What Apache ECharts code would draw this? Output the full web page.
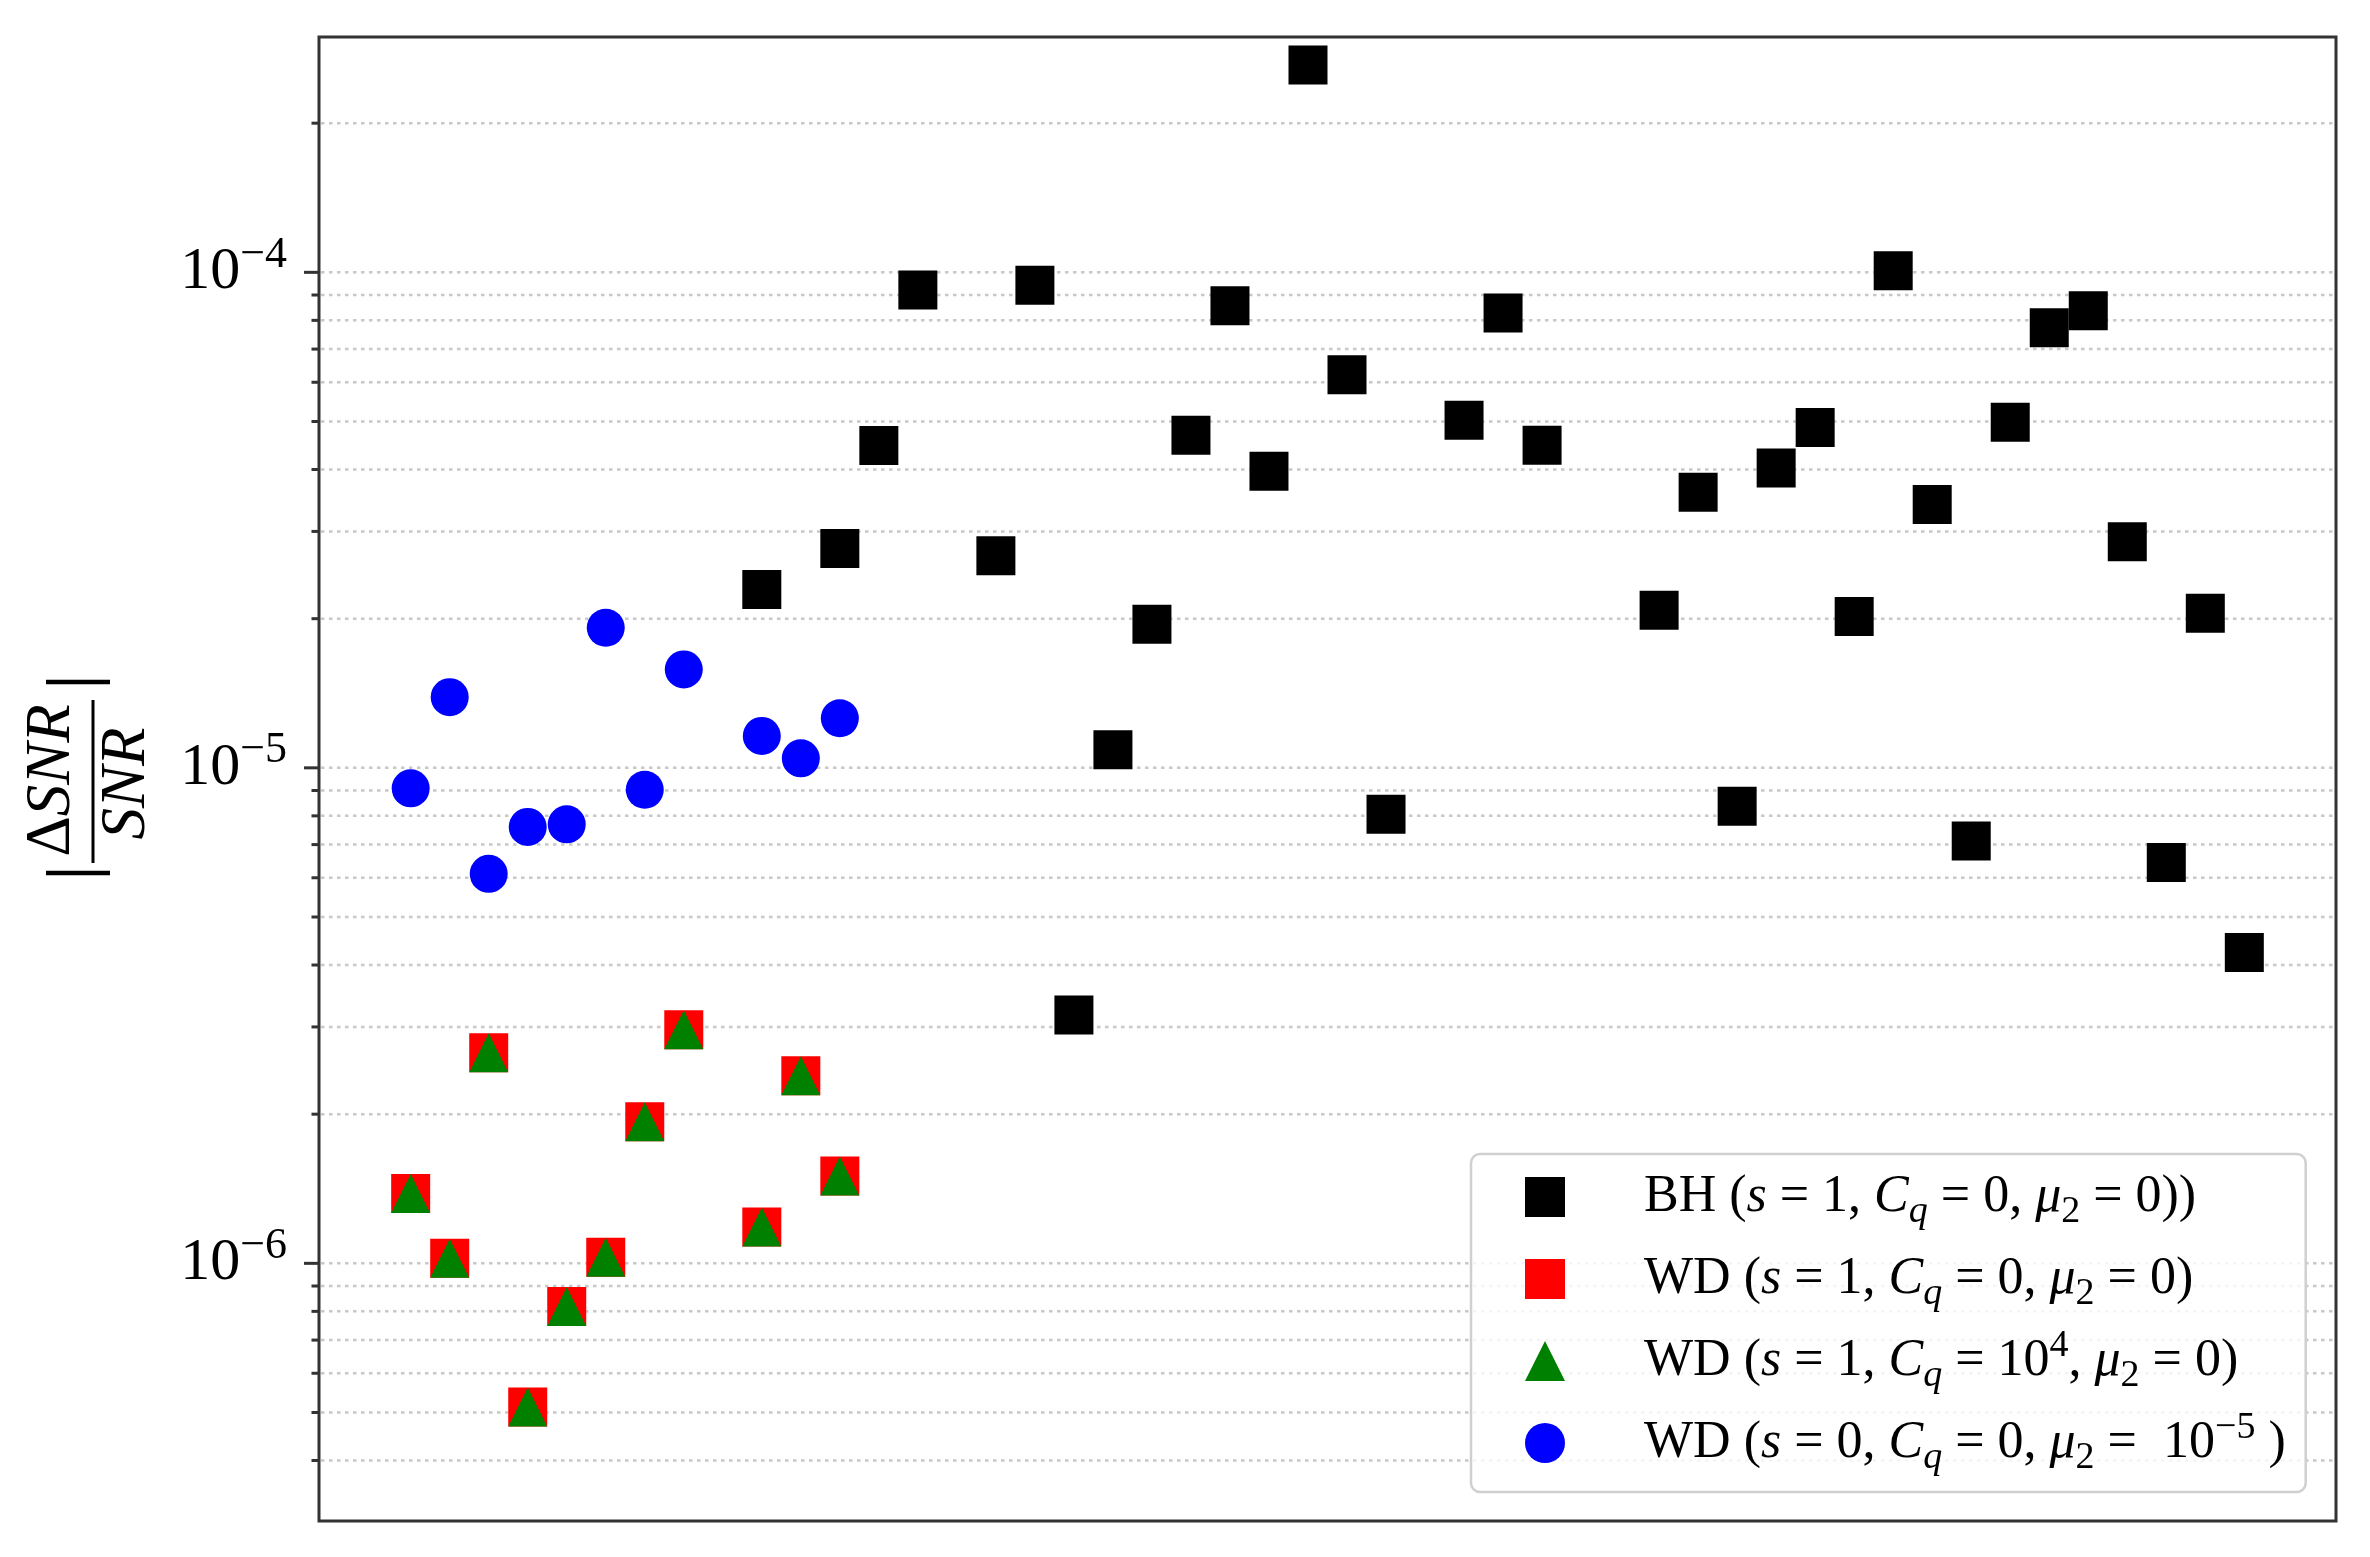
<!DOCTYPE html>
<html>
<head>
<meta charset="utf-8">
<script src="https://cdn.jsdelivr.net/npm/echarts@6/dist/echarts.min.js"></script>
<style>
html,body{margin:0;padding:0;background:#fff;}
#c{width:2370px;height:1557px;}
</style>
</head>
<body>
<div id="c"></div>
<script>
// ---------------- data ----------------
const bhX = [9, 11, 12, 13, 15, 16, 17, 18, 19, 20, 21, 22, 23, 24, 25, 27, 28, 29, 32, 33, 34, 35, 36, 37, 38, 39, 40, 41, 42, 43, 44, 45, 46, 47];
const bhY = [2.29e-5, 2.77e-5, 4.47e-5, 9.21e-5, 2.68e-5, 9.42e-5, 3.17e-6, 1.088e-5, 1.95e-5, 4.69e-5,
             8.56e-5, 3.97e-5, 2.62e-4, 6.21e-5, 8.06e-6, 5.03e-5, 8.28e-5, 4.48e-5, 2.08e-5, 3.60e-5,
             8.37e-6, 4.03e-5, 4.86e-5, 2.02e-5, 1.007e-4, 3.40e-5, 7.12e-6, 4.98e-5, 7.73e-5, 8.37e-5,
             2.86e-5, 6.44e-6, 2.05e-5, 4.24e-6];
const wdX = [0, 1, 2, 3, 4, 5, 6, 7, 9, 10, 11];
const wdRedY   = [1.383e-6, 1.024e-6, 2.66e-6, 5.13e-7, 8.18e-7, 1.029e-6, 1.93e-6, 2.96e-6, 1.184e-6, 2.39e-6, 1.50e-6];
const wdGreenY = [1.383e-6, 1.024e-6, 2.66e-6, 5.13e-7, 8.18e-7, 1.029e-6, 1.93e-6, 2.96e-6, 1.184e-6, 2.39e-6, 1.50e-6];
const wdBlueY  = [9.09e-6, 1.389e-5, 6.11e-6, 7.60e-6, 7.69e-6, 1.917e-5, 9.03e-6, 1.58e-5, 1.16e-5, 1.045e-5, 1.259e-5];

// axis ticks
const yMajorExps = [-6, -5, -4];
const yDecades = [-7, -6, -5, -4];
const yMantissas = [1, 2, 3, 4, 5, 6, 7, 8, 9];
const Y_MIN = 3.02e-7, Y_MAX = 2.985e-4;
const X_MIN = -2.35, X_MAX = 49.35;

const seriesNames = ['BH', 'WD1', 'WD2', 'WD3'];
const legendLabels = {
  'BH':  '{sp| }{r|BH (}{i|s}{r| = 1, }{i|C}{q|q}{r| = 0, }{i|\u03bc}{n|2}{r| = 0))}',
  'WD1': '{sp| }{r|WD (}{i|s}{r| = 1, }{i|C}{q|q}{r| = 0, }{i|\u03bc}{n|2}{r| = 0)}',
  'WD2': '{sp| }{r|WD (}{i|s}{r| = 1, }{i|C}{q|q}{r| = 10}{p|4}{r|, }{i|\u03bc}{n|2}{r| = 0)}',
  'WD3': '{sp| }{r|WD (}{i|s}{r| = 0, }{i|C}{q|q}{r| = 0, }{i|\u03bc}{n|2}{r| =  10}{p|\u22125}{r| )}'
};

// ---------------- helpers ----------------
const FONT = '"Liberation Serif", "DejaVu Serif", serif';
const pairs = (xs, ys) => xs.map((x, i) => [x, ys[i]]);
const gridValues = [];
yDecades.forEach(d => yMantissas.forEach(m => {
  const v = m * Math.pow(10, d);
  if (v > Y_MIN * 1.001 && v < Y_MAX * 0.999) gridValues.push(v);
}));
const isMajor = v => {
  const e = Math.log10(v);
  return Math.abs(e - Math.round(e)) < 1e-6 && yMajorExps.includes(Math.round(e));
};

const chart = echarts.init(document.getElementById('c'), null, {renderer: 'canvas'});

const scatterBase = {
  type: 'scatter',
  animation: false,
  emphasis: {disabled: true},
  silent: true,
  z: 3
};

chart.setOption({
  backgroundColor: '#ffffff',
  animation: false,
  grid: {
    left: 319, right: 34, top: 37, bottom: 36,
    show: true, borderColor: '#333333', borderWidth: 3, backgroundColor: 'transparent'
  },
  xAxis: {
    type: 'value', min: X_MIN, max: X_MAX,
    axisLine: {show: false}, axisTick: {show: false}, axisLabel: {show: false}, splitLine: {show: false}
  },
  yAxis: {
    type: 'log', logBase: 10, min: Y_MIN, max: Y_MAX,
    axisLine: {show: false}, axisTick: {show: false}, splitLine: {show: false},
    minorTick: {show: false}, minorSplitLine: {show: false},
    axisLabel: {
      margin: 32,
      showMinLabel: false, showMaxLabel: false,
      formatter: function (v) {
        const e = Math.round(Math.log10(v));
        if (Math.abs(Math.log10(v) - e) > 1e-6 || !yMajorExps.includes(e)) return '';
        return '{a|10}{s|\u2212' + (-e) + '}';
      },
      rich: {
        a: {fontFamily: FONT, fontSize: 60, lineHeight: 60, color: '#000'},
        s: {fontFamily: FONT, fontSize: 44, lineHeight: 60, padding: [0, 0, 34, 0], color: '#000'}
      }
    }
  },
  legend: {
    data: seriesNames,
    orient: 'vertical',
    left: 1471, top: 1154,
    itemWidth: 40, itemHeight: 40, itemGap: 14,
    padding: [9, 20, 15, 54],
    backgroundColor: 'rgba(255,255,255,0.8)',
    borderColor: '#d0d0d0', borderWidth: 2.5, borderRadius: 9,
    selectedMode: false,
    formatter: name => legendLabels[name],
    textStyle: {
      width: 717,
      color: '#000',
      rich: {
        sp: {width: 74, lineHeight: 40},
        r: {fontFamily: FONT, fontSize: 52, lineHeight: 40, color: '#000'},
        i: {fontFamily: FONT, fontSize: 52, lineHeight: 40, fontStyle: 'italic', color: '#000'},
        q: {fontFamily: FONT, fontSize: 38, lineHeight: 40, fontStyle: 'italic', padding: [30, 0, 0, 0], color: '#000'},
        n: {fontFamily: FONT, fontSize: 38, lineHeight: 40, padding: [30, 0, 0, 0], color: '#000'},
        p: {fontFamily: FONT, fontSize: 38, lineHeight: 40, padding: [0, 0, 30, 0], color: '#000'}
      }
    }
  },
  graphic: [{
    type: 'group', x: 93, y: 781.5, rotation: Math.PI / 2, silent: true,
    children: [
      {type: 'line', shape: {x1: -81.5, y1: 0, x2: 81.5, y2: 0}, style: {stroke: '#000', lineWidth: 3}},
      {type: 'text', x: 1, y: -40.5, style: {
        text: '{d|\u0394}{i|SNR}', align: 'center', verticalAlign: 'middle',
        textAlign: 'center', textVerticalAlign: 'middle', fill: '#000',
        rich: {
          d: {fontFamily: FONT, fontSize: 63, fill: '#000'},
          i: {fontFamily: FONT, fontSize: 63, fontStyle: 'italic', fill: '#000'}
        }
      }},
      {type: 'text', x: -2, y: 34, style: {
        text: '{i|SNR}', align: 'center', verticalAlign: 'middle',
        textAlign: 'center', textVerticalAlign: 'middle', fill: '#000',
        rich: {
          i: {fontFamily: FONT, fontSize: 63, fontStyle: 'italic', fill: '#000'}
        }
      }},
      {type: 'line', shape: {x1: 99.5, y1: -47, x2: 99.5, y2: 17}, style: {stroke: '#000', lineWidth: 4.5}},
      {type: 'line', shape: {x1: -91.5, y1: -47, x2: -91.5, y2: 17}, style: {stroke: '#000', lineWidth: 4.5}}
    ]
  }],
  series: [
    {
      type: 'custom', name: 'gridlines', silent: true, z: 1, clip: false,
      data: gridValues.map(v => [X_MIN, v]),
      encode: {x: 0, y: 1},
      renderItem: function (params, api) {
        const v = api.value(1);
        const pt = api.coord([api.value(0), v]);
        const cs = params.coordSys;
        const major = isMajor(v);
        return {
          type: 'group',
          children: [
            {type: 'line', shape: {x1: cs.x + 2, y1: pt[1], x2: cs.x + cs.width - 2, y2: pt[1]},
             style: {stroke: '#c8c8c8', lineWidth: 2.5, lineDash: [3.5, 4.5]}},
            {type: 'line', shape: {x1: cs.x - (major ? 15 : 7.5), y1: pt[1], x2: cs.x, y2: pt[1]},
             style: {stroke: '#333333', lineWidth: 3}}
          ]
        };
      }
    },
    Object.assign({}, scatterBase, {
      name: 'BH', data: pairs(bhX, bhY), symbol: 'rect', symbolSize: 39,
      itemStyle: {color: '#000000', opacity: 1}
    }),
    Object.assign({}, scatterBase, {
      name: 'WD1', data: pairs(wdX, wdRedY), symbol: 'rect', symbolSize: 39,
      itemStyle: {color: '#ff0000', opacity: 1}, z: 4
    }),
    Object.assign({}, scatterBase, {
      name: 'WD2', data: pairs(wdX, wdGreenY), symbol: 'triangle', symbolSize: 39,
      itemStyle: {color: '#008000', opacity: 1}, z: 5
    }),
    Object.assign({}, scatterBase, {
      name: 'WD3', data: pairs(wdX, wdBlueY), symbol: 'circle', symbolSize: 38,
      itemStyle: {color: '#0000ff', opacity: 1}, z: 6
    })
  ]
});
</script>
</body>
</html>
